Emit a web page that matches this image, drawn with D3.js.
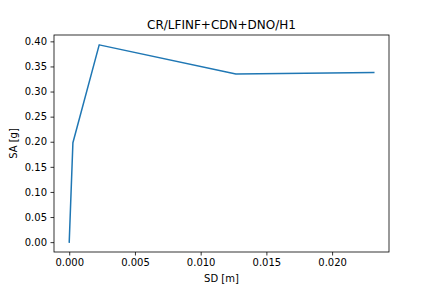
<!DOCTYPE html>
<html>
<head>
<meta charset="utf-8">
<script src="https://cdn.jsdelivr.net/npm/d3@7"></script>
<style>
    body { margin: 0; background: #fff; }
    text { font-family: "DejaVu Sans", sans-serif; fill: #000; }
</style>
</head>
<body>
<div id="chart"></div>
<script>
// data
let sdValues = [0.0, 0.00028, 0.00228, 0.01268, 0.02317];
let saValues = [0.0, 0.198, 0.393, 0.335, 0.338];
let xTicks = [0.000, 0.005, 0.010, 0.015, 0.020];
let yTicks = [0.00, 0.05, 0.10, 0.15, 0.20, 0.25, 0.30, 0.35, 0.40];
let chartTitle = "CR/LFINF+CDN+DNO/H1";

let points = sdValues.map((d, i) => ({sd: d, sa: saValues[i]}));

let margin = {top: 35, right: 43, bottom: 36, left: 54};
let width = 432 - margin.left - margin.right;
let height = 288 - margin.top - margin.bottom;

let svg = d3.select("#chart").append("svg")
    .attr("width", 432)
    .attr("height", 288)
    .append("g")
    .attr("transform", `translate(${margin.left}, ${margin.top})`);

// matplotlib style 5% margins
let xExt = d3.extent(sdValues), yExt = d3.extent(saValues);
let xPad = (xExt[1] - xExt[0]) * 0.05, yPad = (yExt[1] - yExt[0]) * 0.05;

let x = d3.scaleLinear()
    .domain([xExt[0] - xPad, xExt[1] + xPad])
    .range([0, width]);

let y = d3.scaleLinear()
    .domain([yExt[0] - yPad, yExt[1] + yPad])
    .range([height, 0]);

let xAxis = d3.axisBottom(x).tickValues(xTicks).tickFormat(d3.format(".3f")).tickSize(3.5).tickPadding(3.5);
let yAxis = d3.axisLeft(y).tickValues(yTicks).tickFormat(d3.format(".2f")).tickSize(3.5).tickPadding(3.5);

let gx = svg.append("g")
    .attr("class", "x-axis axis")
    .attr("transform", "translate(0," + height + ")")
    .call(xAxis);

let gy = svg.append("g")
    .attr("class", "y-axis axis")
    .call(yAxis);

[gx, gy].forEach(g => {
    g.select(".domain").remove();
    g.selectAll(".tick line").attr("stroke", "#000").attr("stroke-width", 0.8);
    g.selectAll(".tick text").style("font-size", "10px").attr("fill", "#000");
});

let line = d3.line()
    .x(d => x(d.sd))
    .y(d => y(d.sa));

svg.append("path")
    .datum(points)
    .attr("fill", "none")
    .attr("stroke", "#1f77b4")
    .attr("stroke-width", 1.5)
    .attr("stroke-linejoin", "round")
    .attr("stroke-linecap", "square")
    .attr("d", line);

// frame
svg.append("rect")
    .attr("width", width)
    .attr("height", height)
    .attr("fill", "none")
    .attr("stroke", "#000")
    .attr("stroke-width", 0.8);

// title and labels
svg.append("text")
    .text(chartTitle)
    .attr("x", width / 2)
    .attr("y", -6)
    .attr("text-anchor", "middle")
    .style("font-size", "12px");

svg.append("text")
    .text("SD [m]")
    .attr("x", width / 2)
    .attr("y", height + 30)
    .attr("text-anchor", "middle")
    .style("font-size", "10px");

svg.append("text")
    .text("SA [g]")
    .attr("transform", `translate(-37, ${height / 2}) rotate(-90)`)
    .attr("text-anchor", "middle")
    .style("font-size", "10px");
</script>
</body>
</html>
